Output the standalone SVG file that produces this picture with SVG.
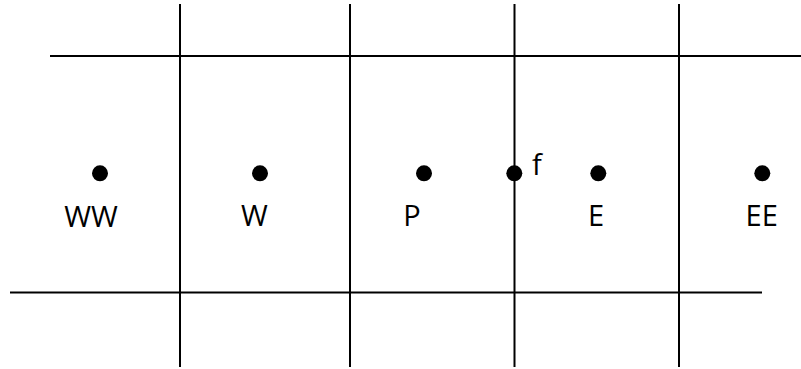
<svg xmlns="http://www.w3.org/2000/svg" width="801" height="369" viewBox="0 0 801 369">
<style>
.ln{stroke:#000;stroke-width:2;fill:none}
.dot{fill:#000}
.lbl{font-family:"Open Sans","Liberation Sans",sans-serif;font-size:29px;fill:#000;text-anchor:middle}
</style>
<rect width="801" height="369" fill="#fff"/>
<g id="grid">
<line class="ln" x1="50" y1="56" x2="801" y2="56"/>
<line class="ln" x1="10" y1="292.5" x2="762" y2="292.5"/>
<line class="ln" x1="180" y1="4" x2="180" y2="367"/>
<line class="ln" x1="350" y1="4" x2="350" y2="367"/>
<line class="ln" x1="514.5" y1="4" x2="514.5" y2="367"/>
<line class="ln" x1="679" y1="4" x2="679" y2="367"/>
</g>
<g id="WW"><circle class="dot" cx="100" cy="173.3" r="8"/><text class="lbl" x="91" y="227">WW</text></g>
<g id="W"><circle class="dot" cx="260" cy="173.3" r="8"/><text class="lbl" x="254.5" y="226">W</text></g>
<g id="P"><circle class="dot" cx="424" cy="173.3" r="8"/><text class="lbl" x="412" y="225.5">P</text></g>
<g id="f"><circle class="dot" cx="514.3" cy="173.3" r="8"/><text class="lbl" x="537" y="175">f</text></g>
<g id="E"><circle class="dot" cx="598.3" cy="173.3" r="8"/><text class="lbl" x="596" y="225.5">E</text></g>
<g id="EE"><circle class="dot" cx="762.3" cy="173.3" r="8"/><text class="lbl" x="761.7" y="225.5">EE</text></g>
</svg>
